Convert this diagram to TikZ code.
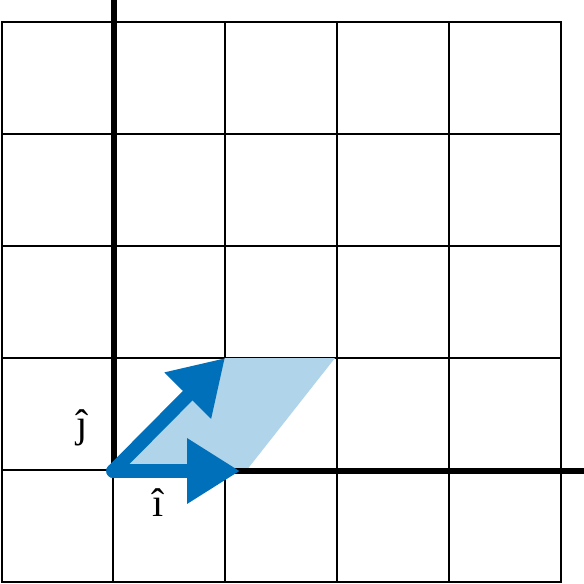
\documentclass[tikz,border=0pt]{standalone}
\usepackage{fontspec}
\setmainfont{Liberation Serif}
\usetikzlibrary{arrows.meta}
\definecolor{vecblue}{RGB}{0,112,186}
\definecolor{areablue}{RGB}{176,212,234}
\begin{document}
\begin{tikzpicture}[x=1pt,y=-1pt,
  gridline/.style={line width=2.7pt,black,line cap=rect},
  axisline/.style={line width=6pt,black},
  basisvec/.style={line width=13.5pt,vecblue,line cap=round,
    -{Triangle[length=53pt,width=62pt]}},
  lbl/.style={font=\fontsize{40}{48}\selectfont,inner sep=0pt}]
\useasboundingbox (0,0) rectangle (584,584);
% grid
\foreach \x in {2,113,225,337,449,561} \draw[gridline] (\x,22) -- (\x,582);
\foreach \y in {22,134,246,358,470,582} \draw[gridline] (2,\y) -- (561,\y);
% coordinates
\coordinate (O) at (113,471);
\coordinate (I) at (240,471);
\coordinate (J) at (225,358);
\coordinate (B) at (246,471);
\coordinate (IJ) at (335,358);
\coordinate (Ytop) at (114,0);
\coordinate (Xend) at (584,471);
% area
\fill[areablue] (O) -- (B) -- (IJ) -- (J) -- cycle;
% axes
\draw[axisline] (114,471) -- (Ytop);
\draw[axisline] (O) -- (Xend);
% basis vectors
\draw[basisvec] (O) -- (J);
\draw[basisvec] (O) -- (I);
% labels
\node[lbl] (jlab) at (82,428) {ĵ};
\node[lbl] (ilab) at (158,503) {î};
\end{tikzpicture}
\end{document}
